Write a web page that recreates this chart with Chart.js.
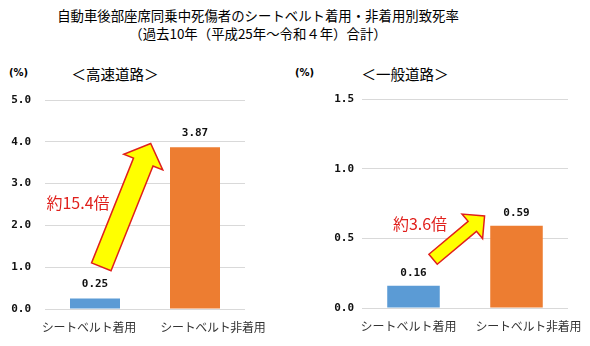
<!DOCTYPE html>
<html><head><meta charset="utf-8">
<script src="https://cdn.jsdelivr.net/npm/chart.js@4/dist/chart.umd.min.js"></script>
<style>
html,body{margin:0;padding:0;background:#fff;}
body{width:590px;height:346px;position:relative;overflow:hidden;font-family:"Noto Sans CJK JP",sans-serif;}
.t{position:absolute;white-space:nowrap;color:#000;}
#title{left:0;width:516px;top:6px;text-align:center;font-size:13.4px;line-height:18px;}
.sub{font-size:14.5px;top:63px;transform:translateX(-50%);}
.pct{font-size:10px;font-weight:bold;top:67px;font-family:"DejaVu Sans",sans-serif;}
.wrap{position:absolute;top:0;width:295px;height:346px;}
</style></head>
<body>
<div id="title" class="t">自動車後部座席同乗中死傷者のシートベルト着用・非着用別致死率<br>（過去10年（平成25年～令和４年）合計）</div>
<div class="t pct" style="left:9px;">(%)</div>
<div class="t sub" style="left:115px;">＜高速道路＞</div>
<div class="t pct" style="left:295px;">(%)</div>
<div class="t sub" style="left:405px;">＜一般道路＞</div>
<div class="wrap" style="left:0"><canvas id="c1" width="295" height="346"></canvas></div>
<div class="wrap" style="left:295px"><canvas id="c2" width="295" height="346"></canvas></div>
<script>
// ---- data ----
const categories = ['シートベルト着用', 'シートベルト非着用'];
const expresswayRates = [0.25, 3.87];
const generalRoadRates = [0.16, 0.59];
const expresswayTickLabels = ['0.0', '1.0', '2.0', '3.0', '4.0', '5.0'];
const generalRoadTickLabels = ['0.0', '0.5', '1.0', '1.5'];
const expresswayRatio = '約15.4倍';
const generalRoadRatio = '約3.6倍';
const barColors = ['#5B9BD5', '#ED7D31'];

// annotation anchors in data space: [categoryIndex, value]
const expresswayArrow = {tail: [0.063, 1.01], tip: [0.557, 3.96]};
const generalRoadArrow = {tail: [0.19, 0.35], tip: [0.69, 0.66]};
const expresswayRatioAt = [-0.17, 2.54];
const generalRoadRatioAt = [0.063, 0.60];

function drawArrow(ctx, x0, y0, x1, y1, sw, hw, hl) {
  const dx = x1 - x0, dy = y1 - y0, L = Math.hypot(dx, dy);
  const ux = dx / L, uy = dy / L, nx = -uy, ny = ux;
  const bx = x1 - ux * hl, by = y1 - uy * hl;
  ctx.beginPath();
  ctx.moveTo(x0 + nx * sw / 2, y0 + ny * sw / 2);
  ctx.lineTo(bx + nx * sw / 2, by + ny * sw / 2);
  ctx.lineTo(bx + nx * hw / 2, by + ny * hw / 2);
  ctx.lineTo(x1, y1);
  ctx.lineTo(bx - nx * hw / 2, by - ny * hw / 2);
  ctx.lineTo(bx - nx * sw / 2, by - ny * sw / 2);
  ctx.lineTo(x0 - nx * sw / 2, y0 - ny * sw / 2);
  ctx.closePath();
  ctx.fillStyle = '#FFFF00';
  ctx.fill();
  ctx.lineWidth = 1.5;
  ctx.strokeStyle = '#E0201C';
  ctx.lineJoin = 'miter';
  ctx.stroke();
}

const overlay = {
  id: 'overlay',
  afterDatasetsDraw(chart, args, o) {
    const ctx = chart.ctx, xs = chart.scales.x, ys = chart.scales.y;
    ctx.save();
    // value labels
    const meta = chart.getDatasetMeta(0);
    ctx.font = 'bold ' + o.labelSize + 'px "DejaVu Sans Mono", monospace';
    ctx.fillStyle = '#111';
    ctx.textAlign = 'center';
    ctx.textBaseline = 'middle';
    meta.data.forEach((bar, i) => {
      const v = chart.data.datasets[0].data[i];
      ctx.fillText(v.toFixed(2), bar.x, bar.y - o.labelGap);
    });
    // category labels (spread like the original axis)
    ctx.font = '12px "Noto Sans CJK JP", sans-serif';
    ctx.fillStyle = '#333';
    chart.data.labels.forEach((lab, i) => {
      const base = ctx.measureText(lab).width;
      const n = [...lab].length;
      const sp = (o.catWidths[i] - base) / n;
      ctx.letterSpacing = sp.toFixed(2) + 'px';
      const cx = xs.getPixelForValue(i) + o.catShift[i] + sp / 2;
      ctx.fillText(lab, cx, chart.chartArea.bottom + o.catGap);
      ctx.letterSpacing = '0px';
    });
    // arrow
    const a = o.arrow;
    drawArrow(ctx, xs.getPixelForValue(a.tail[0]), ys.getPixelForValue(a.tail[1]),
              xs.getPixelForValue(a.tip[0]), ys.getPixelForValue(a.tip[1]),
              o.shaftW, o.headW, o.headL);
    // ratio text
    ctx.font = '16px "Noto Sans CJK JP", sans-serif';
    ctx.fillStyle = '#E0201C';
    ctx.fillText(o.text, xs.getPixelForValue(o.textAt[0]), ys.getPixelForValue(o.textAt[1]));
    ctx.restore();
  }
};

function makeChart(id, values, tickLabels, max, step, cfg) {
  return new Chart(document.getElementById(id), {
    type: 'bar',
    data: {labels: categories, datasets: [{data: values, backgroundColor: barColors,
      borderWidth: 0, barPercentage: cfg.barPct, categoryPercentage: 1}]},
    options: {
      responsive: false, animation: false, devicePixelRatio: 1,
      layout: {padding: {top: cfg.top, right: cfg.right, left: 0, bottom: 0}},
      plugins: {legend: {display: false}, tooltip: {enabled: false},
        overlay: cfg.overlay},
      scales: {
        x: {grid: {display: false}, border: {display: false},
          ticks: {display: false},
          afterFit: s => { s.height = cfg.xh; }},
        y: {min: 0, max: max, border: {display: false},
          grid: {color: '#D9D9D9', lineWidth: 1, drawTicks: false},
          ticks: {stepSize: step, padding: cfg.yPad, color: '#111',
            font: {size: 11, weight: 'bold', family: '"DejaVu Sans Mono", monospace'},
            callback: (v, i) => tickLabels[i]},
          afterFit: s => { s.width = cfg.yw; }}
      }
    },
    plugins: [overlay]
  });
}

makeChart('c1', expresswayRates, expresswayTickLabels, 5, 1, {
  top: 100, right: 50, xh: 37, yw: 45, yPad: 14, barPct: 0.5,
  overlay: {labelSize: 11, labelGap: 14, arrow: expresswayArrow, shaftW: 21, headW: 42, headL: 20,
    text: expresswayRatio, textAt: expresswayRatioAt,
    catWidths: [94, 105], catShift: [-6, 18], catGap: 18}
});
makeChart('c2', generalRoadRates, generalRoadTickLabels, 1.5, 0.5, {
  top: 99, right: 22, xh: 38, yw: 67, yPad: 8, barPct: 0.51,
  overlay: {labelSize: 11, labelGap: 13, arrow: generalRoadArrow, shaftW: 13, headW: 32, headL: 16,
    text: generalRoadRatio, textAt: generalRoadRatioAt,
    catWidths: [96, 106], catShift: [-5, 12], catGap: 18}
});
</script>
</body></html>
